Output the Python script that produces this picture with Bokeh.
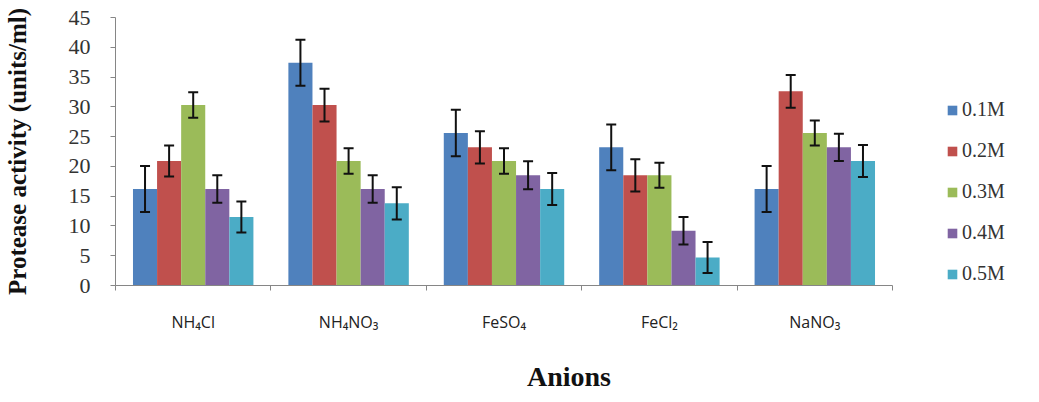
from bokeh.plotting import figure
from bokeh.models import (ColumnDataSource, Range1d, FixedTicker, Whisker, TeeHead,
                          Legend, LegendItem)
from bokeh.embed import file_html
from bokeh.resources import INLINE

# ---- data ----
anions = ["NH₄Cl", "NH₄NO₃", "FeSO₄", "FeCl₂", "NaNO₃"]
series_names = ["0.1M", "0.2M", "0.3M", "0.4M", "0.5M"]
colors = ["#4F81BD", "#C0504D", "#9BBB59", "#8064A2", "#4BACC6"]

v01 = [16.2, 37.4, 25.6, 23.2, 16.2]
v02 = [20.9, 30.3, 23.2, 18.5, 32.6]
v03 = [30.3, 20.9, 20.9, 18.5, 25.6]
v04 = [16.2, 16.2, 18.5, 9.2, 23.2]
v05 = [11.5, 13.8, 16.2, 4.7, 20.9]

e01 = [3.85, 3.85, 3.9, 3.85, 3.85]
e02 = [2.6, 2.75, 2.7, 2.7, 2.75]
e03 = [2.15, 2.15, 2.15, 2.1, 2.1]
e04 = [2.3, 2.3, 2.35, 2.3, 2.3]
e05 = [2.6, 2.7, 2.7, 2.6, 2.7]

values = [v01, v02, v03, v04, v05]
errors = [e01, e02, e03, e04, e05]

yticks = [0, 5, 10, 15, 20, 25, 30, 35, 40, 45]

# ---- layout (pixels) ----
W, H = 1025, 394
left, right, top, bottom = 115, 3, 17, 107
axis_px = 777                     # pixel length of the category axis
frame_w = W - left - right
n = len(anions)
x_max = n * frame_w / axis_px     # frame extends past the axis to hold the legend

bar_w = 0.155
p = figure(width=W, height=H, output_backend="svg", toolbar_location=None,
           x_range=Range1d(0, x_max), y_range=Range1d(0, 45))
p.min_border_left = left
p.min_border_right = right
p.min_border_top = top
p.min_border_bottom = bottom
p.outline_line_color = None
p.xgrid.grid_line_color = None
p.ygrid.grid_line_color = None
p.background_fill_color = "white"
p.border_fill_color = "white"

items = []
centers = [i + 0.5 for i in range(n)]
for k, (name, col, vals, errs) in enumerate(zip(series_names, colors, values, errors)):
    off = (k - 2) * bar_w
    xs = [c + off for c in centers]
    src = ColumnDataSource(dict(x=xs, top=vals,
                                upper=[v + e for v, e in zip(vals, errs)],
                                lower=[v - e for v, e in zip(vals, errs)]))
    r = p.vbar(x="x", top="top", width=bar_w, source=src, fill_color=col, line_color=None)
    items.append(LegendItem(label=name, renderers=[r]))
    w = Whisker(source=src, base="x", upper="upper", lower="lower",
                line_color="#111111", line_width=2, level="overlay",
                upper_head=TeeHead(size=10, line_width=2, line_color="#111111"),
                lower_head=TeeHead(size=10, line_width=2, line_color="#111111"))
    p.add_layout(w)

# y axis
p.yaxis.ticker = FixedTicker(ticks=yticks)
p.yaxis.axis_line_color = "#868686"
p.yaxis.major_tick_line_color = "#868686"
p.yaxis.major_tick_out = 5
p.yaxis.major_tick_in = 0
p.yaxis.minor_tick_line_color = None
p.yaxis.major_label_text_font = "Liberation Serif"
p.yaxis.major_label_text_font_size = "22px"
p.yaxis.major_label_text_color = "#333333"
p.yaxis.major_label_standoff = 20
p.yaxis.axis_label = "Protease activity (units/ml)"
p.yaxis.axis_label_text_font = "Liberation Serif"
p.yaxis.axis_label_text_font_style = "bold"
p.yaxis.axis_label_text_font_size = "25px"
p.yaxis.axis_label_text_color = "#111111"
p.yaxis.axis_label_standoff = 35

# x axis
p.xaxis.bounds = (0, n)
p.xaxis.ticker = FixedTicker(ticks=centers, minor_ticks=list(range(n + 1)))
p.xaxis.major_label_overrides = {c: a for c, a in zip(centers, anions)}
p.xaxis.axis_line_color = "#868686"
p.xaxis.major_tick_line_color = None
p.xaxis.major_tick_out = 0
p.xaxis.major_tick_in = 0
p.xaxis.minor_tick_line_color = "#868686"
p.xaxis.minor_tick_out = 5
p.xaxis.minor_tick_in = 0
p.xaxis.major_label_text_font = "Open Sans"
p.xaxis.major_label_text_font_size = "16px"
p.xaxis.major_label_text_color = "#222222"
p.xaxis.major_label_standoff = 20
p.xaxis.axis_label = "Anions"
p.xaxis.axis_label_text_font = "Liberation Serif"
p.xaxis.axis_label_text_font_style = "bold"
p.xaxis.axis_label_text_font_size = "28px"
p.xaxis.axis_label_text_color = "#111111"
p.xaxis.axis_label_standoff = 25

legend = Legend(items=items, location=(axis_px + 50, -4))
legend.glyph_width = 12
legend.glyph_height = 12
legend.label_height = 22
legend.spacing = 18
legend.padding = 4
legend.margin = 0
legend.label_standoff = 4
legend.label_text_font = "Liberation Serif"
legend.label_text_font_size = "20px"
legend.label_text_color = "#333333"
legend.background_fill_alpha = 0
legend.border_line_alpha = 0
p.add_layout(legend)

open("out.html", "w").write(file_html(p, INLINE))
